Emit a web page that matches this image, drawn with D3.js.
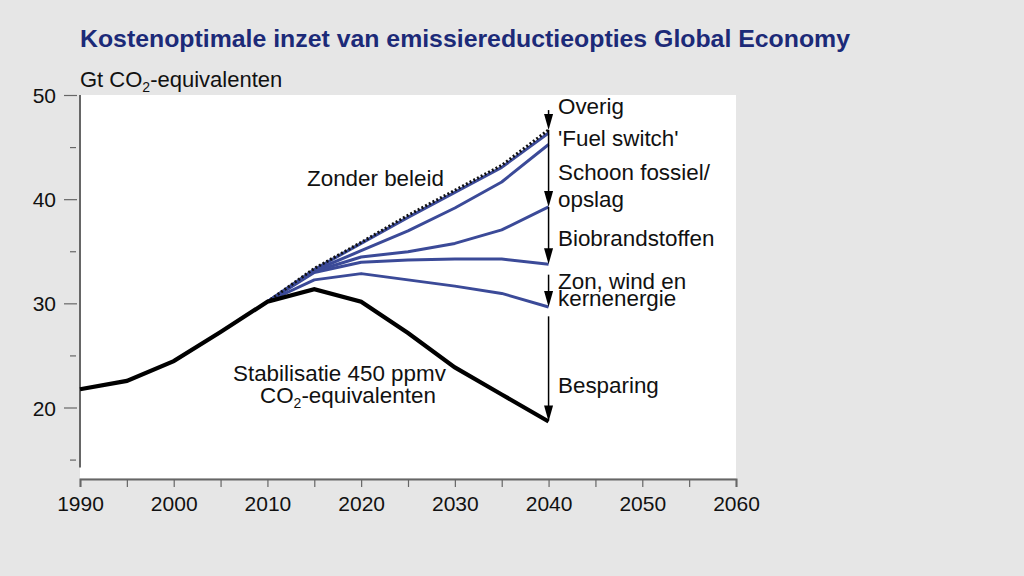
<!DOCTYPE html>
<html><head><meta charset="utf-8">
<script src="https://cdn.jsdelivr.net/npm/d3@7"></script>
<style>
body{margin:0;background:#e6e6e6;}
svg{display:block;font-family:"Liberation Sans",Arial,sans-serif;}
</style></head>
<body><svg id="c" width="1024" height="576"></svg>
<script>
const yearsHist = [1990,1995,2000,2005,2010,2015,2020,2025,2030,2035,2040];
const stabilisatie = [21.8,22.6,24.5,27.3,30.2,31.4,30.2,27.2,23.9,21.3,18.7];
const yearsProj = [2010,2015,2020,2025,2030,2035,2040];
const zonderBeleid = [30.2,33.4,35.9,38.5,40.9,43.3,46.7];
const overig = [30.2,33.3,35.8,38.3,40.7,43.1,46.4];
const fuelSwitch = [30.2,33.2,35.1,37.0,39.2,41.7,45.3];
const schoonFossiel = [30.2,33.1,34.5,35.0,35.8,37.1,39.3];
const biobrandstoffen = [30.2,33.0,34.0,34.2,34.3,34.3,33.8];
const zonWindKern = [30.2,32.3,32.9,32.3,31.7,31.0,29.7];
const xTicks = [1990,2000,2010,2020,2030,2040,2050,2060];
const yTicks = [20,30,40,50];
const yMinor = [15,25,35,45];
// arrows at 2040: [from, to]
const arrows = [[48.6,46.7],[46.7,39.3],[39.3,33.8],[32.8,29.7],[28.8,18.7]];
const rightLabels = [
  {t:["Overig"], v:48.2},
  {t:["'Fuel switch'"], v:45.2},
  {t:["Schoon fossiel/","opslag"], v:41.85},
  {t:["Biobrandstoffen"], v:35.6},
  {t:["Zon, wind en","kernenergie"], v:31.4},
  {t:["Besparing"], v:21.4}
];
const lineGaps = {"opslag":27, "kernenergie":17};

const svg = d3.select("#c");
const x = d3.scaleLinear().domain([1990,2060]).range([80,736]);
const y = d3.scaleLinear().domain([20,50]).range([408,95.5]);
const blue = "#3b4a98";
const axisCol = "#666";
const fs = 22.4;

svg.append("rect").attr("x",80).attr("y",95).attr("width",656).attr("height",383).attr("fill","#fff");

svg.append("text").attr("x",80).attr("y",47).attr("fill","#1c2a78")
  .attr("font-size",24).attr("font-weight","bold").attr("textLength",770).attr("lengthAdjust","spacingAndGlyphs")
  .text("Kostenoptimale inzet van emissiereductieopties Global Economy");

const yl = svg.append("text").attr("x",80).attr("y",87).attr("font-size",22).attr("fill","#111");
yl.append("tspan").text("Gt CO");
yl.append("tspan").attr("font-size",14).attr("dy",5).text("2");
yl.append("tspan").attr("dy",-5).text("-equivalenten");

svg.append("line").attr("x1",80).attr("x2",80).attr("y1",95).attr("y2",y(14.3)).attr("stroke",axisCol).attr("stroke-width",2);
yTicks.forEach(v=>{
  svg.append("line").attr("x1",64).attr("x2",77).attr("y1",y(v)).attr("y2",y(v)).attr("stroke",axisCol).attr("stroke-width",1.2);
  svg.append("text").attr("x",56).attr("y",y(v)+7.5).attr("text-anchor","end").attr("font-size",21).attr("fill","#111").text(v);
});
yMinor.forEach(v=>{
  svg.append("line").attr("x1",70).attr("x2",76).attr("y1",y(v)).attr("y2",y(v)).attr("stroke",axisCol).attr("stroke-width",1.2);
});

const xAxis = d3.axisBottom(x).tickValues(d3.range(1990,2061,5)).tickSize(8).tickFormat(d=>xTicks.includes(d)?d:"");
const gx = svg.append("g").attr("transform","translate(0,479)").call(xAxis);
gx.select(".domain").attr("stroke",axisCol).attr("stroke-width",2);
gx.selectAll(".tick line").attr("stroke",axisCol).attr("stroke-width",1.2);
gx.selectAll(".tick text").attr("font-size",21).attr("fill","#111").attr("font-family","Liberation Sans, Arial, sans-serif").attr("dy","1.02em");

const line = d3.line().x(d=>x(d[0])).y(d=>y(d[1]));
const zip = (xs,vs)=>xs.map((d,i)=>[d,vs[i]]);

[zonWindKern,biobrandstoffen,schoonFossiel,fuelSwitch,overig].forEach(s=>{
  svg.append("path").attr("d",line(zip(yearsProj,s))).attr("fill","none").attr("stroke",blue).attr("stroke-width",3).attr("stroke-linejoin","round");
});
svg.append("path").attr("d",line(zip(yearsProj,zonderBeleid))).attr("fill","none").attr("stroke","#111").attr("stroke-width",3).attr("stroke-dasharray","2,2.2");
svg.append("path").attr("d",line(zip(yearsHist,stabilisatie))).attr("fill","none").attr("stroke","#000").attr("stroke-width",4.2).attr("stroke-linejoin","miter");

const ax = x(2040);
arrows.forEach(([a,b])=>{
  const y1=y(a), y2=y(b);
  svg.append("line").attr("x1",ax).attr("x2",ax).attr("y1",y1).attr("y2",y2-10).attr("stroke","#000").attr("stroke-width",1.5);
  svg.append("path").attr("d",`M${ax-4.5},${y2-16}L${ax+4.5},${y2-16}L${ax},${y2}Z`).attr("fill","#000");
});

rightLabels.forEach(l=>{
  const t = svg.append("text").attr("x",558).attr("y",y(l.v)).attr("font-size",fs).attr("fill","#111");
  l.t.forEach((s,i)=>{
    t.append("tspan").attr("x",558).attr("dy",i===0?0:lineGaps[s]).text(s);
  });
});

svg.append("text").attr("x",307).attr("y",186).attr("font-size",fs).attr("fill","#111").text("Zonder beleid");
svg.append("text").attr("x",233).attr("y",381).attr("font-size",fs).attr("fill","#111").text("Stabilisatie 450 ppmv");
const s2 = svg.append("text").attr("x",260).attr("y",403).attr("font-size",fs).attr("fill","#111");
s2.append("tspan").text("CO");
s2.append("tspan").attr("font-size",14).attr("dy",5).text("2");
s2.append("tspan").attr("dy",-5).text("-equivalenten");
</script></body></html>
